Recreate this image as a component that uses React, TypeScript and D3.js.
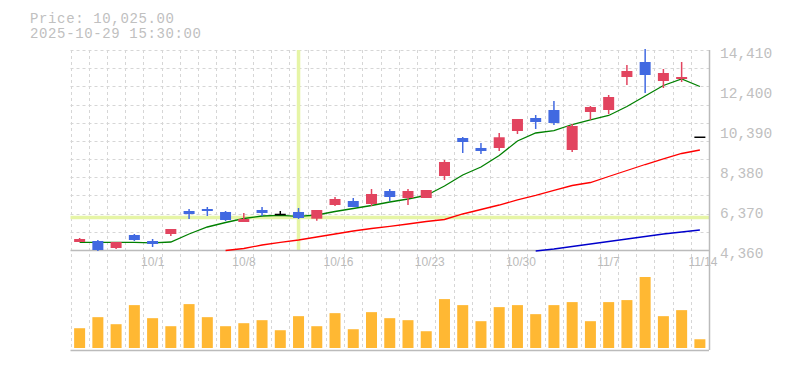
import { useEffect, useRef } from 'react'
import * as d3 from 'd3'

const dates = [
  '9/25', '9/26', '9/29', '9/30', '10/1', '10/2', '10/3', '10/6', '10/7', '10/8',
  '10/9', '10/10', '10/14', '10/15', '10/16', '10/17', '10/20', '10/21', '10/22', '10/23',
  '10/24', '10/27', '10/28', '10/29', '10/30', '10/31', '11/4', '11/5', '11/6', '11/7',
  '11/10', '11/11', '11/12', '11/13', '11/14',
]
const labelDates = ['10/1', '10/8', '10/16', '10/23', '10/30', '11/7', '11/14']

const opens = [4762, 4812, 4460, 5114, 4812, 5164, 6320, 6420, 6270, 5767, 6370, 6144, 6270, 5933, 6621, 6822, 6672, 7325, 6973, 6973, 8079, 9988, 9486, 9486, 10340, 10993, 11395, 9385, 11295, 11395, 13053, 13807, 12852, 12953, 10025]
const highs = [4963, 4862, 4762, 5164, 4913, 5415, 6420, 6521, 6320, 6219, 6521, 6320, 6471, 6370, 7023, 6973, 7425, 7425, 7425, 7375, 8883, 10038, 9737, 10239, 10943, 11144, 11847, 10691, 11596, 12149, 13656, 14460, 13455, 13807, 10025]
const lows = [4762, 4310, 4410, 4812, 4511, 5064, 5918, 6069, 5817, 5767, 6069, 6119, 5918, 5832, 6571, 6521, 6571, 6822, 6621, 6973, 7878, 9234, 9184, 9335, 10189, 10440, 10641, 9284, 10893, 11194, 12651, 12249, 12500, 12802, 10025]
const closes = [4913, 4360, 4762, 4862, 4662, 5415, 6169, 6320, 5868, 5918, 6219, 6144, 5968, 6370, 6923, 6521, 7174, 7023, 7325, 7375, 8782, 9787, 9335, 10025, 10943, 10792, 10742, 10591, 11546, 12048, 13355, 13154, 13254, 13053, 10025]
const volumes = [197, 307, 237, 427, 297, 217, 437, 307, 217, 247, 277, 177, 317, 217, 347, 187, 357, 297, 277, 167, 487, 427, 267, 407, 427, 337, 427, 457, 267, 457, 477, 707, 317, 377, 87]

const maShort = [4747, 4747, 4747, 4747, 4722, 4762, 5164, 5516, 5742, 5943, 6069, 6104, 6053, 6119, 6295, 6445, 6596, 6772, 6923, 7099, 7576, 8129, 8531, 9109, 9837, 10239, 10355, 10666, 10893, 11119, 11571, 12099, 12626, 12953, 12576]
const maMid = [null, null, null, null, null, null, null, null, 4335, 4435, 4611, 4747, 4863, 5013, 5164, 5315, 5440, 5551, 5667, 5792, 5893, 6169, 6395, 6621, 6873, 7099, 7350, 7601, 7752, 8053, 8355, 8656, 8933, 9209, 9385]
const maLong = [null, null, null, null, null, null, null, null, null, null, null, null, null, null, null, null, null, null, null, null, null, null, null, null, null, 4310, 4410, 4536, 4662, 4787, 4913, 5038, 5164, 5265, 5365]

const priceTicks = [14410, 12400, 10390, 8380, 6370, 4360]
const crosshairDate = '10/14'
const crosshairPrice = 5993

export default function App() {
  const svgRef = useRef<SVGSVGElement | null>(null)
  const width = 785
  const height = 370

  useEffect(() => {
    if (!svgRef.current) return
    const svg = d3.select(svgRef.current)
    svg.selectAll('*').remove()

    const left = 70.5
    const right = 709
    const priceTop = 50
    const priceBottom = 250
    const volBottom = 350
    const mono = '"Liberation Mono", "DejaVu Sans Mono", monospace'

    const x = d3.scaleBand().domain(dates).range([left, right]).padding(0)
    const cx = (d: string) => (x(d) as number) + x.bandwidth() / 2
    const y = d3.scaleLinear().domain([4360, 14410]).range([priceBottom, priceTop])
    const yv = d3.scaleLinear().domain([0, d3.max(volumes) as number]).range([348, 277])

    // grid
    const grid = svg.append('g').attr('stroke', '#d6d6d6').attr('stroke-dasharray', '3,3').attr('stroke-width', 1)
    const step = (14410 - 4360) / 11
    d3.range(11).forEach(k => {
      const gy = Math.round(y(14410 - k * step)) + 0.5
      grid.append('line').attr('x1', left).attr('x2', right).attr('y1', gy).attr('y2', gy)
    })
    dates.forEach(d => {
      const gx = Math.round(x(d) as number) + 0.5
      grid.append('line').attr('x1', gx).attr('x2', gx).attr('y1', priceTop).attr('y2', volBottom)
    })

    // crosshair
    svg.append('line').attr('x1', left).attr('x2', right)
      .attr('y1', y(crosshairPrice)).attr('y2', y(crosshairPrice))
      .attr('stroke', '#e6f5a6').attr('stroke-width', 3.5)
    svg.append('line').attr('x1', cx(crosshairDate)).attr('x2', cx(crosshairDate))
      .attr('y1', priceTop).attr('y2', priceBottom)
      .attr('stroke', '#e6f5a6').attr('stroke-width', 3.5)

    // axes lines
    svg.append('line').attr('x1', left).attr('x2', right).attr('y1', priceBottom + 0.5).attr('y2', priceBottom + 0.5)
      .attr('stroke', '#bbbbbb').attr('stroke-width', 1.5)
    svg.append('line').attr('x1', left).attr('x2', right).attr('y1', volBottom + 0.5).attr('y2', volBottom + 0.5)
      .attr('stroke', '#bbbbbb').attr('stroke-width', 1.5)
    svg.append('line').attr('x1', right + 0.5).attr('x2', right + 0.5).attr('y1', priceTop).attr('y2', volBottom)
      .attr('stroke', '#bbbbbb').attr('stroke-width', 1.5)

    // volume
    volumes.forEach((v, i) => {
      svg.append('rect')
        .attr('x', cx(dates[i]) - 5.5).attr('width', 11)
        .attr('y', yv(v)).attr('height', yv(0) - yv(v))
        .attr('fill', '#ffb833')
    })

    // moving averages
    const line = d3.line<number | null>()
      .defined(v => v != null)
      .x((_, i) => cx(dates[i]))
      .y(v => y(v as number))
    const mas: [(number | null)[], string][] = [[maLong, '#0000cc'], [maMid, '#ff0000'], [maShort, '#008000']]
    mas.forEach(([vals, color]) => {
      svg.append('path').attr('d', line(vals) as string)
        .attr('fill', 'none').attr('stroke', color).attr('stroke-width', 1.3)
    })

    // candles
    dates.forEach((d, i) => {
      const o = opens[i], c = closes[i], h = highs[i], l = lows[i]
      const color = c > o ? '#e2445f' : c < o ? '#4169e1' : '#000000'
      const mx = cx(d)
      if (h > l) {
        svg.append('line').attr('x1', mx).attr('x2', mx).attr('y1', y(h)).attr('y2', y(l))
          .attr('stroke', color).attr('stroke-width', 1.5)
      }
      if (c === o) {
        svg.append('line').attr('x1', mx - 5.5).attr('x2', mx + 5.5).attr('y1', y(c)).attr('y2', y(c))
          .attr('stroke', color).attr('stroke-width', 1.5)
      } else {
        const top = y(Math.max(o, c))
        const bot = y(Math.min(o, c))
        svg.append('rect').attr('x', mx - 5.5).attr('width', 11)
          .attr('y', top).attr('height', Math.max(1, bot - top)).attr('fill', color)
      }
    })

    // y labels
    priceTicks.forEach(t => {
      svg.append('text').attr('x', 720).attr('y', y(t) + 7.5)
        .attr('fill', '#c0c0c0').attr('font-size', 14.5).attr('font-family', mono)
        .text(d3.format(',')(t))
    })

    // x labels
    labelDates.forEach(d => {
      svg.append('text').attr('x', cx(d) - 11.5).attr('y', 266)
        .attr('fill', '#bbbbbb').attr('font-size', 12).attr('font-family', '"Liberation Sans", Arial, sans-serif')
        .text(d)
    })

    // tooltip text
    svg.append('text').attr('x', 30).attr('y', 23).attr('fill', '#c0c0c0')
      .attr('font-size', 14).attr('font-family', mono).attr('textLength', 144).text('Price: 10,025.00')
    svg.append('text').attr('x', 30).attr('y', 38).attr('fill', '#c0c0c0')
      .attr('font-size', 14).attr('font-family', mono).attr('textLength', 171).text('2025-10-29 15:30:00')
  }, [])

  return (
    <svg ref={svgRef} width={width} height={height}
      style={{ position: 'absolute', left: 0, top: 0, background: '#ffffff' }} />
  )
}
